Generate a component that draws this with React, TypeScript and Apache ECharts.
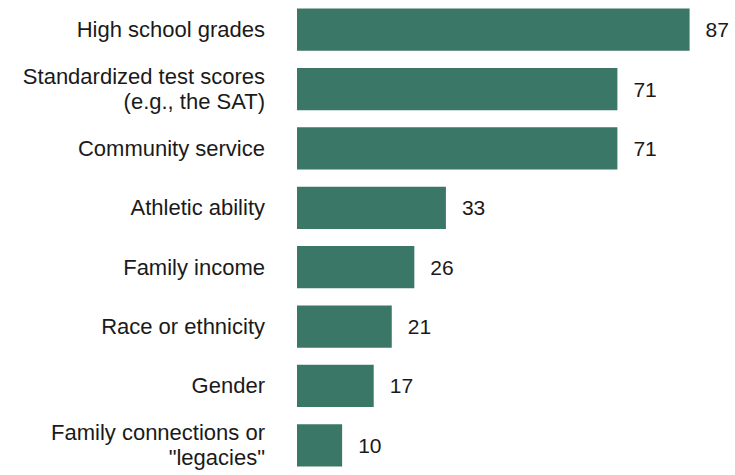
import React, { useEffect, useRef } from "react";
import * as echarts from "echarts";

const categories = [
  "High school grades",
  "Standardized test scores\n(e.g., the SAT)",
  "Community service",
  "Athletic ability",
  "Family income",
  "Race or ethnicity",
  "Gender",
  "Family connections or\n\"legacies\"",
];
const values = [87, 71, 71, 33, 26, 21, 17, 10];

const BAR_COLOR = "#3a7767";
const FONT = "'Liberation Sans', Arial, sans-serif";

export default function App() {
  const ref = useRef<HTMLDivElement>(null);
  useEffect(() => {
    if (!ref.current) return;
    const chart = echarts.init(ref.current, undefined, { renderer: "svg" });
    chart.setOption({
      animation: false,
      grid: { left: 297, right: 45.4, top: 0, bottom: -2, containLabel: false },
      xAxis: {
        type: "value",
        min: 0,
        max: 87,
        show: false,
      },
      yAxis: {
        type: "category",
        data: categories,
        inverse: true,
        axisLine: { show: false },
        axisTick: { show: false },
        splitLine: { show: false },
        axisLabel: {
          margin: 32,
          fontSize: 22,
          fontFamily: FONT,
          color: "#1a1a1a",
          lineHeight: 25,
          align: "right",
        },
      },
      series: [
        {
          type: "bar",
          data: values,
          barCategoryGap: "29%",
          itemStyle: { color: BAR_COLOR },
          label: {
            show: true,
            position: "right",
            distance: 16,
            fontSize: 21,
            fontFamily: FONT,
            color: "#1a1a1a",
          },
        },
      ],
    });
    return () => chart.dispose();
  }, []);
  return (
    <div
      ref={ref}
      style={{ position: "fixed", left: 0, top: 0, width: 735, height: 475, background: "#fff" }}
    />
  );
}
